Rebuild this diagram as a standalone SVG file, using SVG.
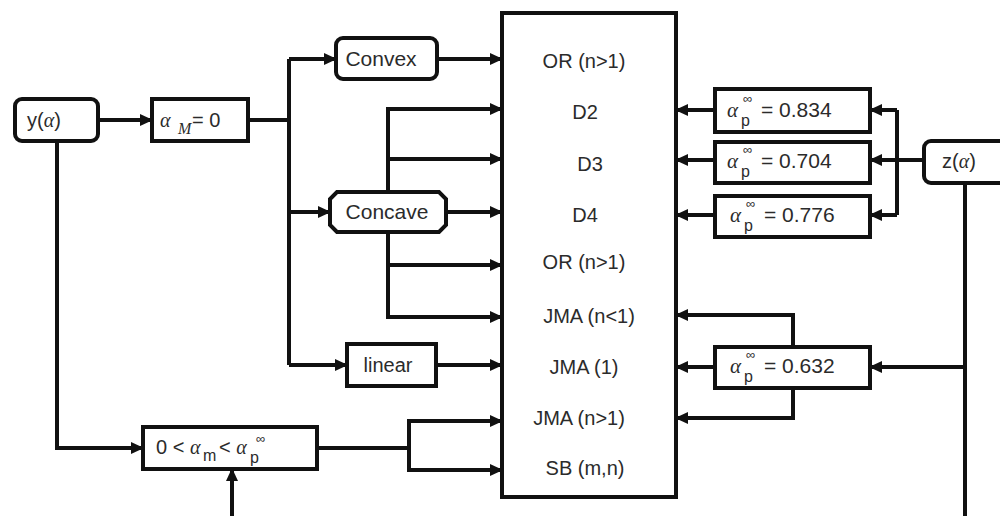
<svg xmlns="http://www.w3.org/2000/svg" width="1000" height="516" viewBox="0 0 1000 516">
<style>
.box{fill:#fff;stroke:#111;stroke-width:4}
.ln{fill:none;stroke:#111;stroke-width:4}
.ar{fill:none;stroke:#111;stroke-width:4;marker-end:url(#ah)}
text{font-family:"Liberation Sans",Arial,sans-serif;font-size:20px;fill:#2b2b2b}
.big{font-size:21px}
.it{font-style:italic;font-family:"Liberation Serif","DejaVu Serif",serif}
.sm{font-size:16px}
.inf{font-size:13px}
.ctr{text-anchor:middle}
</style>
<defs>
<marker id="ah" markerUnits="userSpaceOnUse" markerWidth="14" markerHeight="12" refX="12" refY="6" orient="auto">
<path d="M0,0 L13,6 L0,12 Z" fill="#111"/>
</marker>
</defs>
<rect width="1000" height="516" fill="#fff"/>
<g id="connectors">
<path class="ar" d="M98,120 H152"/>
<path class="ln" d="M248,120 H289"/>
<path class="ln" d="M289,59 V365"/>
<path class="ar" d="M289,59 H336"/>
<path class="ar" d="M289,212 H330"/>
<path class="ar" d="M289,365 H347"/>
<path class="ar" d="M437,59 H502"/>
<path class="ar" d="M388,193 V109 H502"/>
<path class="ar" d="M388,159 H502"/>
<path class="ar" d="M446,212 H502"/>
<path class="ar" d="M388,232 V317 H502"/>
<path class="ar" d="M388,265 H502"/>
<path class="ar" d="M436,365 H502"/>
<path class="ar" d="M57,141 V448 H143"/>
<path class="ln" d="M317,448 H409"/>
<path class="ar" d="M409,448 V421 H502"/>
<path class="ar" d="M409,448 V470 H502"/>
<path class="ar" d="M232,516 V469"/>
<path class="ar" d="M715,110 H676"/>
<path class="ar" d="M715,160 H676"/>
<path class="ar" d="M715,215 H676"/>
<path class="ln" d="M897,110 V215"/>
<path class="ar" d="M897,110 H870"/>
<path class="ar" d="M897,215 H870"/>
<path class="ar" d="M924,160 H870"/>
<path class="ln" d="M965,183 V516"/>
<path class="ar" d="M965,367 H870"/>
<path class="ar" d="M715,367 H676"/>
<path class="ar" d="M793,347 V315 H676"/>
<path class="ar" d="M793,388 V418 H676"/>
</g>
<g id="y-alpha">
<rect class="box" x="15" y="99" width="83" height="42" rx="7"/>
<text x="27" y="127">y(<tspan class="it">α</tspan>)</text>
</g>
<g id="alphaM">
<rect class="box" x="152" y="99" width="96" height="42"/>
<text x="160" y="127"><tspan class="it">α</tspan><tspan class="it sm" x="178" y="134">M</tspan><tspan x="192" y="127">= 0</tspan></text>
</g>
<g id="convex">
<rect class="box" x="336" y="38" width="101" height="41" rx="7"/>
<text class="ctr big" x="381" y="66">Convex</text>
</g>
<g id="concave">
<path class="box" d="M337,192 H439 L446,199 V225 L439,232 H337 L330,225 V199 Z"/>
<text class="ctr big" x="387" y="219">Concave</text>
</g>
<g id="linear">
<rect class="box" x="347" y="344" width="89" height="42"/>
<text class="ctr" x="388" y="372">linear</text>
</g>
<g id="alpha-m-range">
<rect class="box" x="143" y="427" width="174" height="42"/>
<text x="156" y="454">0 &lt; <tspan class="it">α</tspan><tspan class="sm" x="203" y="461">m</tspan><tspan x="219" y="454">&lt; </tspan><tspan class="it">α</tspan><tspan class="sm" x="250" y="463">p</tspan><tspan class="inf" x="256" y="443">∞</tspan></text>
</g>
<g id="models">
<rect class="box" x="502" y="13" width="174" height="484"/>
<text class="ctr" x="584" y="68">OR (n&gt;1)</text>
<text class="ctr" x="585" y="119">D2</text>
<text class="ctr" x="590" y="171">D3</text>
<text class="ctr" x="585" y="222">D4</text>
<text class="ctr" x="584" y="269">OR (n&gt;1)</text>
<text class="ctr" x="589" y="323">JMA (n&lt;1)</text>
<text class="ctr" x="584" y="374">JMA (1)</text>
<text class="ctr" x="579" y="425">JMA (n&gt;1)</text>
<text class="ctr" x="585" y="475">SB (m,n)</text>
</g>
<g id="ap0834">
<rect class="box" x="715" y="89" width="155" height="43"/>
<text class="big" x="727" y="117"><tspan class="it">α</tspan><tspan class="sm" x="741" y="126">p</tspan><tspan class="inf" x="743" y="103">∞</tspan><tspan x="761" y="117">= 0.834</tspan></text>
</g>
<g id="ap0704">
<rect class="box" x="715" y="142" width="155" height="41"/>
<text class="big" x="727" y="168"><tspan class="it">α</tspan><tspan class="sm" x="741" y="177">p</tspan><tspan class="inf" x="743" y="154">∞</tspan><tspan x="761" y="168">= 0.704</tspan></text>
</g>
<g id="ap0776">
<rect class="box" x="715" y="196" width="155" height="41"/>
<text class="big" x="730" y="222"><tspan class="it">α</tspan><tspan class="sm" x="744" y="231">p</tspan><tspan class="inf" x="746" y="208">∞</tspan><tspan x="764" y="222">= 0.776</tspan></text>
</g>
<g id="ap0632">
<rect class="box" x="715" y="347" width="155" height="41"/>
<text class="big" x="730" y="373"><tspan class="it">α</tspan><tspan class="sm" x="744" y="382">p</tspan><tspan class="inf" x="746" y="359">∞</tspan><tspan x="764" y="373">= 0.632</tspan></text>
</g>
<g id="z-alpha">
<rect class="box" x="924" y="141" width="90" height="42" rx="7"/>
<text x="942" y="168">z(<tspan class="it">α</tspan>)</text>
</g>
</svg>
